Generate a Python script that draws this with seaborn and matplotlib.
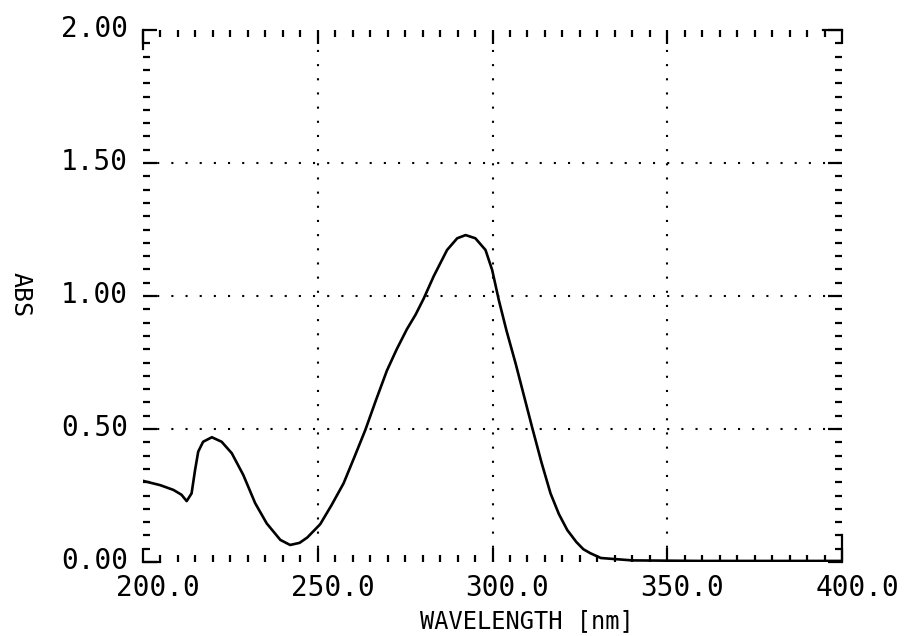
import numpy as np
import pandas as pd
import matplotlib
matplotlib.use("Agg")
import matplotlib.pyplot as plt
from matplotlib.ticker import MultipleLocator, FixedLocator
from matplotlib.transforms import ScaledTranslation
import seaborn as sns

# ---- data ----
wavelength = [200, 204.9, 208.7, 211, 212.5, 213.9, 214.9, 215.8, 217.2, 219.7, 222.5,
              225.4, 228.7, 232.1, 235.4, 239.3, 242.1, 244.8, 247, 250.7, 254, 257.4,
              260.5, 263.6, 266.7, 269.8, 272.6, 275.5, 278, 280.3, 283.2, 287, 289.9, 292.3,
              295.1, 298, 299.9, 301.8, 304, 306.6, 309, 311.4, 314, 316.6, 319, 321.4,
              324, 326, 328, 331, 340, 360, 380, 400]
absorbance = [0.305, 0.289, 0.271, 0.253, 0.229, 0.258, 0.346, 0.415, 0.452, 0.469, 0.452,
              0.409, 0.327, 0.221, 0.145, 0.083, 0.064, 0.072, 0.092, 0.142, 0.215, 0.296,
              0.395, 0.496, 0.61, 0.72, 0.80, 0.875, 0.93, 0.99, 1.075, 1.173, 1.217, 1.229,
              1.217, 1.173, 1.098, 0.985, 0.87, 0.747, 0.625, 0.503, 0.375, 0.258, 0.18,
              0.12, 0.075, 0.048, 0.033, 0.015, 0.006, 0.004, 0.004, 0.004]
x_ticks = [200, 250, 300, 350, 400]
x_tick_labels = ["200.0", "250.0", "300.0", "350.0", "400.0"]
y_ticks = [0.0, 0.5, 1.0, 1.5, 2.0]
y_tick_labels = ["0.00", "0.50", "1.00", "1.50", "2.00"]
x_label = "WAVELENGTH [nm]"
y_label = "ABS"

df = pd.DataFrame({"wavelength": wavelength, "abs": absorbance})

sns.set_theme(style="white")
plt.rcParams["font.family"] = ["DejaVu Sans Mono", "DejaVu Sans"]

W, H, DPI = 907, 636, 100
fig = plt.figure(figsize=(W / DPI, H / DPI), dpi=DPI)
left, right, top, bottom = 143, 842, 30, 562
ax = fig.add_axes([left / W, 1 - bottom / H, (right - left) / W, (bottom - top) / H])

sns.lineplot(data=df, x="wavelength", y="abs", ax=ax, color="black", lw=1.9,
             sort=True, estimator=None, zorder=3)
ax.lines[-1].set_solid_joinstyle("round")

ax.set_xlim(200, 400)
ax.set_ylim(0, 2.0)

# dotted grid at major positions (interior only)
dot = (0, (1.0, 5.8))
for xv in x_ticks[1:-1]:
    ax.axvline(xv, color="black", lw=1.5, linestyle=dot, dash_capstyle="butt", zorder=1)
for yv in y_ticks[1:-1]:
    ax.axhline(yv, color="black", lw=1.5, linestyle=dot, dash_capstyle="butt", zorder=1)

# spines: only small corner fragments
ax.spines["bottom"].set_bounds(200, 205)
ax.spines["left"].set_bounds(1.93, 2.0)
ax.spines["top"].set_bounds(394.5, 400)
ax.spines["right"].set_bounds(0, 0.1)
for s in ax.spines.values():
    s.set_color("black")
    s.set_linewidth(1.6)

ax.xaxis.set_major_locator(FixedLocator(x_ticks))
ax.yaxis.set_major_locator(FixedLocator(y_ticks))
ax.xaxis.set_minor_locator(MultipleLocator(5))
ax.yaxis.set_minor_locator(MultipleLocator(0.05))
ax.set_xticklabels(x_tick_labels)
ax.set_yticklabels(y_tick_labels)

px = 72 / DPI
ax.tick_params(which="both", direction="in", top=True, right=True, bottom=True, left=True,
               color="black", width=1.6)
ax.tick_params(which="major", length=14 * px, labelsize=20, labelcolor="black")
ax.tick_params(which="minor", length=7 * px)
ax.tick_params(axis="y", which="major", pad=15 * px)
ax.tick_params(axis="x", which="major", pad=12 * px)

for lab in ax.get_xticklabels():
    lab.set_transform(lab.get_transform() + ScaledTranslation(15 / DPI, 0, fig.dpi_scale_trans))
for lab in ax.get_yticklabels():
    lab.set_transform(lab.get_transform() + ScaledTranslation(0, 4 / DPI, fig.dpi_scale_trans))

ax.set_xlabel("")
ax.set_ylabel("")
fig.text(527 / W, 1 - 633 / H, x_label, ha="center", va="bottom", fontsize=17, color="black")
fig.text(21 / W, 1 - 295 / H, y_label, ha="center", va="center", rotation=-90,
         fontsize=18, color="black")

fig.savefig("out.png", dpi=DPI, facecolor="white")
